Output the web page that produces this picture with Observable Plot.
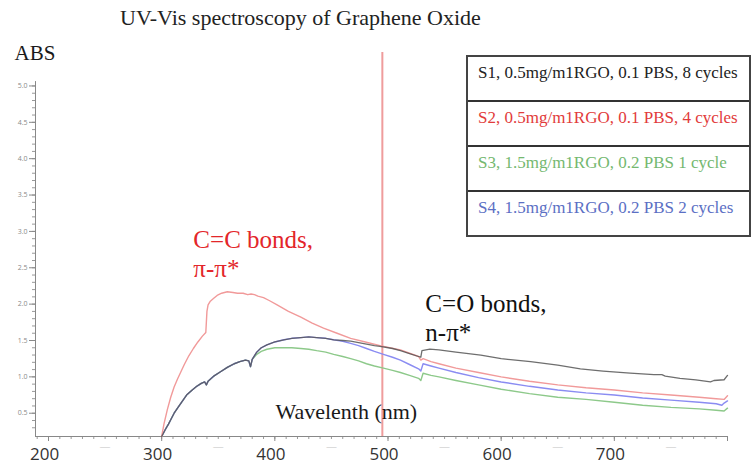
<!DOCTYPE html>
<html><head><meta charset="utf-8">
<script src="https://cdn.jsdelivr.net/npm/d3@7"></script>
<script src="https://cdn.jsdelivr.net/npm/@observablehq/plot@0.6"></script>
<style>
body{margin:0;background:#fff;width:756px;height:466px;overflow:hidden;position:relative;font-family:"Liberation Serif",serif;}
#title{height:36px;line-height:36px;font-size:22px;padding-left:120px;color:#222;white-space:nowrap;}
#chart{height:430px;}
#legend{position:absolute;left:466px;top:55px;width:285px;border:2px solid #444;background:#fff;box-sizing:border-box;}
.row{height:45px;border-bottom:2px solid #333;font-size:17px;line-height:20px;padding:6px 0 0 10px;box-sizing:border-box;white-space:nowrap;}
.row:last-child{border-bottom:none;height:43px;}
</style></head><body>
<div id="title"></div>
<div id="chart"></div>
<div id="legend"></div>
<script>
const titleText = "UV-Vis spectroscopy of Graphene Oxide";
const seriesNames = ["S1, 0.5mg/m1RGO, 0.1 PBS, 8 cycles","S2, 0.5mg/m1RGO, 0.1 PBS, 4 cycles","S3, 1.5mg/m1RGO, 0.2 PBS 1 cycle","S4, 1.5mg/m1RGO, 0.2 PBS 2 cycles"];
const lineColors = ["#555555","#f19a9a","#8dc98a","#8a8cf2"];
const legendColors = ["#222222","#e23b3b","#74b86f","#5b6fc4"];

// S1 (black)
const s1_nm  = [300,303,306,308,311,314,318,322,327,331,335,338,339.5,341,346,352,358,364,369,374,377,378.5,380,384,388,393,400,408,415,423,430,437,445,452,460,467,474,481,488,493,504,511,519,527,529,530,537,545,560,582,600,626,650,670,690,714,735,742,745,758,772,785,788,797,800];
const s1_abs = [0.18,0.27,0.35,0.41,0.50,0.57,0.66,0.75,0.82,0.87,0.91,0.93,0.89,0.94,1.01,1.07,1.13,1.18,1.21,1.23,1.22,1.14,1.24,1.34,1.40,1.44,1.48,1.51,1.53,1.54,1.55,1.54,1.53,1.51,1.50,1.49,1.47,1.45,1.43,1.42,1.39,1.36,1.32,1.28,1.27,1.36,1.38,1.37,1.34,1.30,1.25,1.21,1.16,1.11,1.08,1.05,1.03,1.03,1.01,0.98,0.96,0.93,0.95,0.96,1.02];
// S2 (red)
const s2_nm  = [300,302,305,308,311,314,317,320,324,328,332,336,339,340,341,343,346,349,353,358,363,367,372,376,379,382,385,390,395,402,412,423,433,443,455,467,480,493,511,527,529,531,538,545,560,580,600,625,650,675,700,725,750,775,790,797,800];
const s2_abs = [0.18,0.35,0.55,0.72,0.86,0.97,1.07,1.17,1.29,1.39,1.48,1.56,1.61,1.90,1.99,2.04,2.08,2.12,2.15,2.17,2.16,2.15,2.15,2.13,2.14,2.13,2.11,2.09,2.05,1.99,1.90,1.82,1.74,1.67,1.60,1.53,1.48,1.43,1.37,1.28,1.23,1.25,1.21,1.18,1.12,1.06,1.00,0.94,0.89,0.85,0.82,0.78,0.75,0.72,0.70,0.69,0.74];
// S3 (green)
const s3_nm  = [300,303,306,308,311,314,318,322,327,331,335,338,339.5,341,346,352,358,364,369,374,377,378.5,380,384,388,393,400,408,415,423,430,437,445,452,460,467,474,481,488,496,504,511,519,527,529,531,538,545,560,580,600,625,650,675,700,725,750,775,790,797,800];
const s3_abs = [0.18,0.27,0.35,0.41,0.50,0.57,0.66,0.75,0.82,0.87,0.91,0.93,0.89,0.94,1.01,1.07,1.13,1.18,1.21,1.23,1.22,1.14,1.24,1.31,1.35,1.38,1.40,1.40,1.40,1.39,1.38,1.36,1.34,1.31,1.28,1.25,1.22,1.18,1.15,1.12,1.09,1.06,1.02,0.98,0.95,1.05,1.02,1.00,0.95,0.89,0.83,0.77,0.72,0.69,0.65,0.61,0.58,0.56,0.54,0.53,0.57];
// S4 (blue)
const s4_nm  = [300,303,306,308,311,314,318,322,327,331,335,338,339.5,341,346,352,358,364,369,374,377,378.5,380,384,388,393,400,408,415,423,430,437,445,452,460,467,474,481,488,496,504,511,519,527,529,531,538,545,560,580,600,625,650,675,700,725,750,775,790,795,797,800];
const s4_abs = [0.18,0.27,0.35,0.41,0.50,0.57,0.66,0.75,0.82,0.87,0.91,0.93,0.89,0.94,1.01,1.07,1.13,1.18,1.21,1.23,1.22,1.14,1.24,1.34,1.40,1.44,1.48,1.51,1.53,1.54,1.55,1.54,1.53,1.51,1.49,1.46,1.43,1.39,1.35,1.31,1.27,1.23,1.17,1.11,1.08,1.18,1.15,1.12,1.06,0.99,0.93,0.87,0.82,0.78,0.75,0.71,0.68,0.65,0.63,0.61,0.64,0.67];

const xTickLabels = [200,300,400,500,600,700];
const xMajorTicks = [200,300,400,500,600,700,800];
const xHalfMarks = [250,350,450,550,650,750];
const yTickLabels = [0.5,1.0,1.5,2.0,2.5,3.0,3.5,4.0,4.5,5.0];
const markerNm = [495];

const annLabels = ["ABS","C=C bonds,","π-π*","C=O bonds,","n-π*","Wavelenth (nm)"];
const annNm     = [170,328,328,533,533,400.5];
const annAbs    = [5.36,2.77,2.37,1.89,1.50,0.42];
const annColors = ["#1a1a1a","#e3262a","#e3262a","#111111","#111111","#1a1a1a"];
const annSizes  = [21,25,25,25,25,22];

document.getElementById("title").textContent = titleText;
const legend = document.getElementById("legend");
seriesNames.forEach((n,i)=>{const d=document.createElement("div");d.className="row";d.style.color=legendColors[i];d.textContent=n;legend.appendChild(d);});

const toRows = (nm, ab) => nm.map((x,i)=>({nm:x, abs:ab[i]}));
const S1 = toRows(s1_nm,s1_abs), S2 = toRows(s2_nm,s2_abs), S3 = toRows(s3_nm,s3_abs), S4 = toRows(s4_nm,s4_abs);
const ann = annLabels.map((t,i)=>({t, nm:annNm[i], abs:annAbs[i], c:annColors[i], s:annSizes[i]}));
const xMinor = d3.range(190, 801, 10);
const yMinor = d3.range(3, 51).map(v=>v/10);
const yLo = 0.18, xLo = 188.5;

const chart = Plot.plot({
  width:756, height:430, marginLeft:35, marginRight:29, marginTop:16, marginBottom:30,
  x:{domain:[xLo,800]}, y:{domain:[yLo,5.46]},
  style:{background:"transparent", fontFamily:"Liberation Serif, serif", overflow:"visible"},
  marks:[
    Plot.ruleX(markerNm,{stroke:"#ef9c9c",strokeWidth:2}),
    Plot.axisY(yMinor,{tickSize:3,tickFormat:()=>"",color:"#999",label:null}),
    Plot.axisY(yTickLabels,{tickSize:6,tickPadding:2,fontSize:7,color:"#8a8a8a",fontFamily:"Open Sans, sans-serif",tickFormat:d3.format(".1f"),label:null}),
    Plot.axisX(xMinor,{tickSize:3,tickFormat:()=>"",color:"#999",label:null}),
    Plot.axisX(xMajorTicks,{tickSize:5,tickFormat:()=>"",color:"#888",label:null}),
    Plot.axisX(xTickLabels,{tickSize:0,tickPadding:11,fontSize:17,fontFamily:"Open Sans, sans-serif",color:"#333",label:null,dx:-4}),
    Plot.text(xHalfMarks,{x:d=>d,frameAnchor:"bottom",dy:13,text:()=>"—",fill:"#c4c4c4",fontSize:10}),
    Plot.ruleY([yLo],{stroke:"#888"}),
    Plot.ruleX([xLo],{y1:yLo,y2:5.06,stroke:"#888"}),
    Plot.line(S3,{x:"nm",y:"abs",stroke:lineColors[2],strokeWidth:1.4}),
    Plot.line(S4,{x:"nm",y:"abs",stroke:lineColors[3],strokeWidth:1.4}),
    Plot.line(S2,{x:"nm",y:"abs",stroke:lineColors[1],strokeWidth:1.4}),
    Plot.line(S1,{x:"nm",y:"abs",stroke:lineColors[0],strokeWidth:1.3,strokeOpacity:0.85}),
    Plot.text(ann,{x:"nm",y:"abs",text:"t",fill:"c",fontSize:"s",textAnchor:"start",lineAnchor:"bottom"})
  ]
});
document.getElementById("chart").appendChild(chart);
</script>
</body></html>
